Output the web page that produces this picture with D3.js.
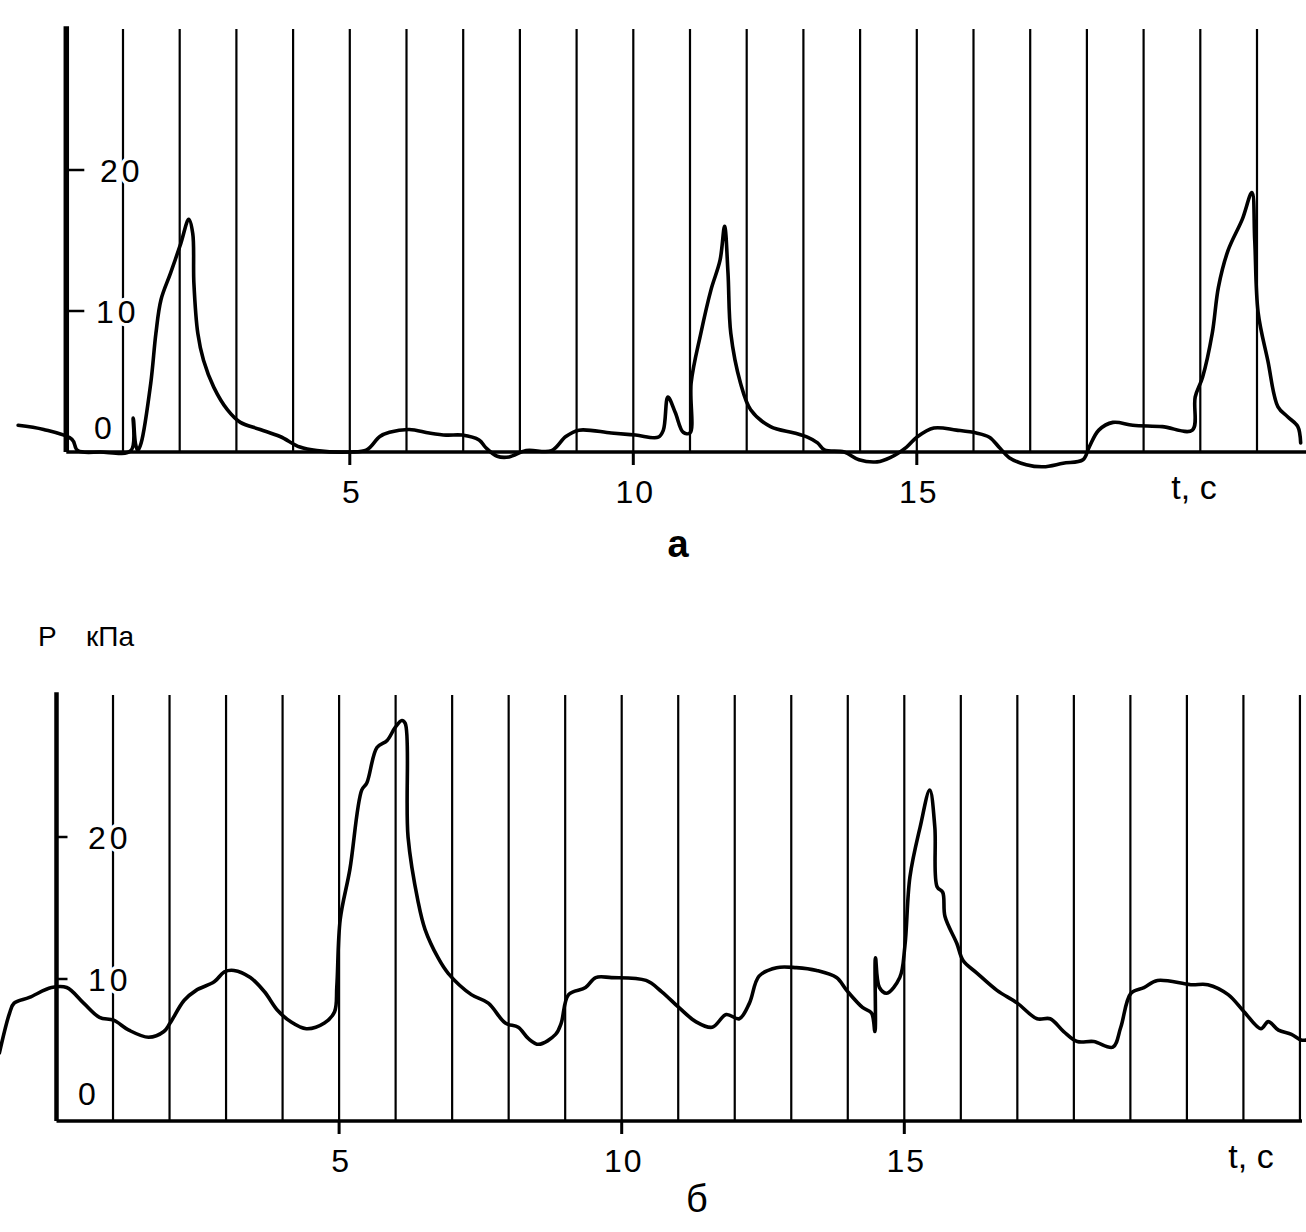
<!DOCTYPE html>
<html>
<head>
<meta charset="utf-8">
<script src="https://cdn.jsdelivr.net/npm/d3@7/dist/d3.min.js"></script>
<style>
  body { margin: 0; background: #fff; }
  text { font-family: "Liberation Sans", Arial, sans-serif; fill: #000; }
  .halo { stroke: #fff; stroke-width: 7px; paint-order: stroke; }
</style>
</head>
<body>
<div id="chart"></div>
<script>
// panel a: time (s) and pressure (kPa)
var timeA = [-0.85, -0.4, 0.1, 0.2, 0.6, 1.14, 1.18, 1.22, 1.26, 1.32, 1.49, 1.58, 1.67, 1.84, 2.02, 2.16, 2.23, 2.25, 2.32, 2.42, 2.6, 2.84, 3.07, 3.42, 3.77, 4.12, 4.42, 5.0, 5.3, 5.53, 5.7, 6.05, 6.4, 6.7, 6.98, 7.28, 7.4, 7.6, 7.81, 8.11, 8.56, 8.81, 9.04, 9.61, 10.04, 10.44, 10.53, 10.61, 10.74, 10.88, 11.0, 11.02, 11.19, 11.37, 11.53, 11.61, 11.67, 11.72, 11.89, 12.07, 12.42, 12.84, 13.07, 13.25, 13.37, 13.72, 13.98, 14.3, 14.53, 14.82, 15.0, 15.3, 15.7, 16.05, 16.28, 16.46, 16.63, 16.93, 17.23, 17.58, 17.93, 18.04, 18.21, 18.46, 18.81, 19.33, 19.86, 19.91, 20.04, 20.21, 20.32, 20.49, 20.74, 20.91, 20.96, 21.02, 21.19, 21.37, 21.54, 21.72, 21.77];
var pressureA = [1.9, 1.6, 0.9, 0.1, 0, 0.1, 2.4, 0.6, 0.1, 0.64, 4.9, 8.4, 10.8, 12.7, 14.8, 16.5, 15.5, 12.0, 8.4, 6.5, 4.6, 3.0, 2.1, 1.6, 1.1, 0.35, 0.1, 0, 0.15, 1.1, 1.4, 1.6, 1.35, 1.2, 1.2, 0.85, 0.3, -0.3, -0.35, 0.1, 0.1, 1.1, 1.55, 1.35, 1.2, 1.05, 1.55, 3.9, 2.8, 1.4, 1.35, 4.9, 8.4, 11.5, 13.6, 16.0, 12.7, 8.4, 4.9, 3.0, 1.8, 1.35, 1.05, 0.65, 0.15, 0, -0.55, -0.7, -0.4, 0.35, 1.05, 1.7, 1.55, 1.35, 1.05, 0.3, -0.4, -0.9, -1.05, -0.8, -0.55, 0.35, 1.55, 2.1, 1.9, 1.8, 1.55, 3.9, 5.3, 8.4, 11.7, 14.3, 16.5, 18.4, 15.0, 9.9, 6.5, 3.2, 2.5, 1.8, 0.65];

// panel б
var timeB = [-1.01, -0.83, -0.75, -0.48, -0.09, 0.18, 0.48, 0.76, 1.01, 1.28, 1.63, 1.9, 2.01, 2.26, 2.47, 2.79, 2.97, 3.14, 3.43, 3.68, 3.91, 4.14, 4.42, 4.74, 4.92, 4.96, 5.02, 5.19, 5.4, 5.49, 5.67, 5.85, 5.99, 6.11, 6.17, 6.22, 6.4, 6.52, 6.75, 6.93, 7.34, 7.64, 7.94, 8.17, 8.35, 8.53, 8.83, 8.93, 9.06, 9.36, 9.54, 9.82, 10.43, 10.71, 11.01, 11.31, 11.6, 11.85, 12.08, 12.26, 12.43, 12.74, 13.09, 13.45, 13.8, 13.98, 14.26, 14.42, 14.48, 14.49, 14.56, 14.69, 14.92, 15.01, 15.1, 15.28, 15.45, 15.54, 15.58, 15.68, 15.72, 15.93, 16.04, 16.29, 16.64, 17.0, 17.35, 17.58, 17.82, 18.06, 18.35, 18.69, 18.83, 19.01, 19.24, 19.48, 20.07, 20.37, 20.73, 21.01, 21.31, 21.44, 21.62, 21.85, 22.02, 22.11];
var pressureB = [4.8, 7.6, 8.3, 8.7, 9.4, 9.4, 8.3, 7.3, 7.1, 6.4, 5.9, 6.3, 6.9, 8.5, 9.2, 9.8, 10.5, 10.6, 10.1, 9.1, 7.8, 7.0, 6.5, 6.9, 7.7, 9.5, 14.2, 17.7, 23.3, 23.8, 26.3, 26.8, 27.7, 28.2, 28.0, 20.0, 15.4, 13.5, 11.5, 10.4, 8.9, 8.3, 6.9, 6.6, 5.8, 5.4, 6.1, 6.9, 8.9, 9.4, 10.1, 10.1, 9.9, 9.1, 8.0, 7.0, 6.6, 7.5, 7.2, 8.3, 10.2, 10.8, 10.8, 10.6, 10.1, 9.2, 8.0, 7.6, 6.3, 11.5, 9.4, 9.0, 10.1, 12.3, 17.2, 20.7, 23.3, 20.7, 16.5, 16.1, 14.4, 12.5, 11.3, 10.4, 9.2, 8.3, 7.2, 7.2, 6.3, 5.6, 5.6, 5.2, 6.6, 9.0, 9.4, 9.9, 9.6, 9.6, 8.9, 7.7, 6.5, 7.0, 6.4, 6.1, 5.7, 5.7];

var gridSecondsA = [1, 2, 3, 4, 5, 6, 7, 8, 9, 10, 11, 12, 13, 14, 15, 16, 17, 18, 19, 20, 21];
var gridSecondsB = [1, 2, 3, 4, 5, 6, 7, 8, 9, 10, 11, 12, 13, 14, 15, 16, 17, 18, 19, 20, 21, 22];
var xTickValues = [5, 10, 15];
var yTickValues = [10, 20];
var yTickLabels = ["0", "10", "20"];

var W = 1306, H = 1232;

var svg = d3.select("#chart").append("svg")
    .attr("width", W)
    .attr("height", H);

svg.append("rect").attr("width", W).attr("height", H).attr("fill", "#fff");

function drawPanel(opt) {
    var x = d3.scaleLinear().domain([0, 20]).range(opt.xRange);
    var y = d3.scaleLinear().domain([0, 30]).range(opt.yRange);
    var g = svg.append("g");

    // vertical time marks, one per second
    g.selectAll("line.grid")
        .data(opt.grid)
      .enter().append("line")
        .attr("class", "grid")
        .attr("x1", function(d) { return x(d); })
        .attr("x2", function(d) { return x(d); })
        .attr("y1", y(30))
        .attr("y2", y(0))
        .attr("stroke", "#000")
        .attr("stroke-width", 2.2);

    // y axis
    g.append("line")
        .attr("x1", x(0)).attr("x2", x(0))
        .attr("y1", y(30.2)).attr("y2", y(0))
        .attr("stroke", "#000")
        .attr("stroke-width", opt.axisWidth);

    // zero line
    g.append("line")
        .attr("x1", x(0)).attr("x2", opt.baseEnd)
        .attr("y1", y(0)).attr("y2", y(0))
        .attr("stroke", "#000")
        .attr("stroke-width", 3.5);

    g.selectAll("line.ytick")
        .data(yTickValues)
      .enter().append("line")
        .attr("class", "ytick")
        .attr("x1", x(0)).attr("x2", x(0) + opt.yTickLen)
        .attr("y1", function(d) { return y(d); })
        .attr("y2", function(d) { return y(d); })
        .attr("stroke", "#000")
        .attr("stroke-width", 2.5);

    g.selectAll("line.xtick")
        .data(xTickValues)
      .enter().append("line")
        .attr("class", "xtick")
        .attr("x1", function(d) { return x(d); })
        .attr("x2", function(d) { return x(d); })
        .attr("y1", y(0)).attr("y2", y(0) + 13)
        .attr("stroke", "#000")
        .attr("stroke-width", 3);

    g.selectAll("text.ylab")
        .data([0, 10, 20])
      .enter().append("text")
        .attr("class", "ylab halo")
        .attr("x", function(d, i) { return opt.yLabelX[i]; })
        .attr("y", function(d) { return d === 0 ? y(0) - opt.zeroLift : y(d); })
        .attr("dy", "0.36em")
        .style("font-size", "32px")
        .style("letter-spacing", "4px")
        .text(function(d, i) { return yTickLabels[i]; });

    g.selectAll("text.xlab")
        .data(xTickValues)
      .enter().append("text")
        .attr("class", "xlab")
        .attr("x", function(d) { return x(d) + 2; })
        .attr("y", opt.xLabelY)
        .attr("dy", "0.36em")
        .style("font-size", "32px")
        .style("letter-spacing", "2px")
        .style("text-anchor", "middle")
        .text(function(d) { return d; });

    g.append("text")
        .attr("x", opt.unitX)
        .attr("y", opt.xLabelY - 4)
        .attr("dy", "0.36em")
        .style("font-size", "34px")
        .style("text-anchor", "middle")
        .text("t, c");

    var lineFunc = d3.line()
        .curve(d3.curveCatmullRom.alpha(0.5))
        .x(function(d) { return x(d[0]); })
        .y(function(d) { return y(d[1]); });

    g.append("path")
        .datum(d3.zip(opt.time, opt.pressure))
        .attr("d", lineFunc)
        .attr("fill", "none")
        .attr("stroke", "#000")
        .attr("stroke-width", 3.6)
        .attr("stroke-linejoin", "round")
        .attr("stroke-linecap", "round");

    g.append("text")
        .attr("x", opt.caption[0])
        .attr("y", opt.caption[1])
        .attr("dy", "0.36em")
        .style("font-size", opt.captionSize)
        .style("font-weight", opt.captionWeight)
        .style("text-anchor", "middle")
        .text(opt.captionText);

    return g;
}

drawPanel({
    xRange: [66.3, 66.3 + 20 * 56.7],
    yRange: [452, 452 - 30 * 14.1],
    grid: gridSecondsA,
    axisWidth: 5.5,
    baseEnd: W,
    yTickLen: 18,
    yLabelX: [94, 96, 100],
    zeroLift: 25,
    xLabelY: 491,
    unitX: 1194,
    time: timeA,
    pressure: pressureA,
    caption: [678, 543],
    captionSize: "38px",
    captionWeight: "bold",
    captionText: "a"
});

var gB = drawPanel({
    xRange: [56.5, 56.5 + 20 * 56.52],
    yRange: [1121, 1121 - 30 * 14.2],
    grid: gridSecondsB,
    axisWidth: 4.5,
    baseEnd: 1302,
    yTickLen: 11,
    yLabelX: [78, 88, 88],
    zeroLift: 28,
    xLabelY: 1160,
    unitX: 1251,
    time: timeB,
    pressure: pressureB,
    caption: [697, 1198],
    captionSize: "38px",
    captionWeight: "normal",
    captionText: "б"
});

// unit label above panel б
var unit = gB.append("text")
    .attr("y", 636)
    .attr("dy", "0.36em")
    .style("font-size", "28px");
unit.append("tspan").attr("x", 38).text("P");
unit.append("tspan").attr("x", 86).text("кПа");
</script>
</body>
</html>
